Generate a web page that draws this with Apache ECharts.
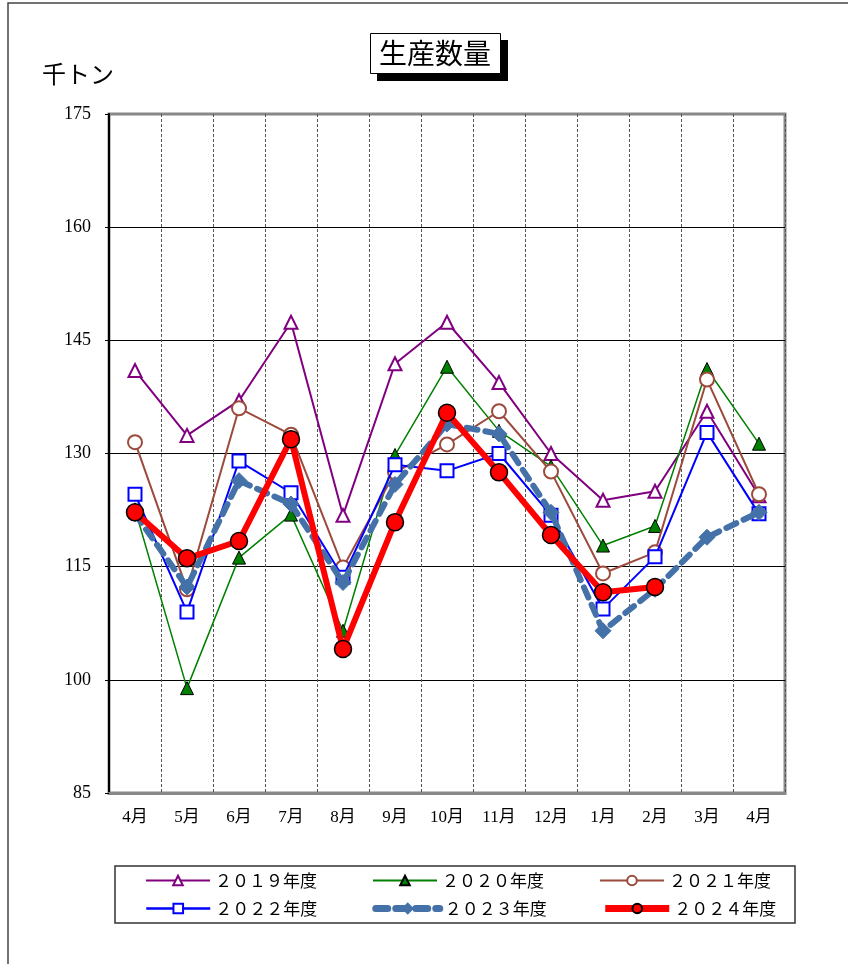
<!DOCTYPE html>
<html>
<head>
<meta charset="utf-8">
<script src="https://cdn.jsdelivr.net/npm/echarts@6/dist/echarts.min.js"></script>
<style>
html,body{margin:0;padding:0;background:#fff;}
#chart{width:848px;height:964px;}
</style>
</head>
<body>
<div id="chart"></div>
<script>
const categories = ['4月','5月','6月','7月','8月','9月','10月','11月','12月','1月','2月','3月','4月'];
const yTicks = [85, 100, 115, 130, 145, 160, 175];
const seriesNames = ['２０１９年度','２０２０年度','２０２１年度','２０２２年度','２０２３年度','２０２４年度'];
const fy2019 = [141.0, 132.4, 137.0, 147.4, 121.8, 141.9, 147.4, 139.4, 130.0, 123.8, 125.0, 135.6, 124.4];
const fy2020 = [122.6, 98.9, 116.2, 121.9, 106.5, 129.8, 141.5, 133.0, 128.3, 117.8, 120.4, 141.2, 131.3];
const fy2021 = [131.5, 112.0, 136.0, 132.5, 114.9, 127.5, 131.2, 135.6, 127.6, 114.1, 116.9, 139.8, 124.6];
const fy2022 = [124.6, 109.0, 129.0, 124.8, 113.6, 128.5, 127.7, 130.0, 121.8, 109.4, 116.3, 132.8, 122.0];
const fy2023 = [122.0, 112.3, 126.4, 123.3, 112.9, 125.9, 133.9, 132.6, 122.2, 106.5, 112.0, 118.9, 122.2];
const fy2024 = [122.2, 116.1, 118.4, 131.9, 104.1, 120.9, 135.4, 127.5, 119.2, 111.6, 112.3, null, null];

const CJK = '"Noto Sans CJK JP", "Noto Sans", sans-serif';
const SERIF = '"Liberation Serif", "DejaVu Serif", "Noto Sans CJK JP", serif';

const chart = echarts.init(document.getElementById('chart'), null, {renderer: 'canvas'});

const legendText = {fontSize: 17, color: '#000', fontFamily: CJK};
const legendCommon = {
  left: 145, itemWidth: 64, itemHeight: 12, itemGap: 55,
  orient: 'horizontal', textStyle: legendText, selectedMode: false, padding: 0
};

const option = {
  animation: false,
  backgroundColor: '#fff',
  title: [
    {
      text: '生産数量', left: 435, textAlign: 'center', top: 37, padding: 0,
      textStyle: {fontSize: 28, fontWeight: 'normal', color: '#000', fontFamily: CJK, lineHeight: 32}
    },
    {
      text: '千トン', left: 42, top: 62, padding: 0,
      textStyle: {fontSize: 24, fontWeight: 'normal', color: '#000', fontFamily: CJK}
    }
  ],
  legend: [
    Object.assign({}, legendCommon, {top: 872, data: [
      {name: seriesNames[0], lineStyle: {width: 2}},
      {name: seriesNames[1], lineStyle: {width: 2}},
      {name: seriesNames[2], lineStyle: {width: 2}}
    ]}),
    Object.assign({}, legendCommon, {top: 900, data: [
      {name: seriesNames[3], lineStyle: {width: 2.5}},
      {name: seriesNames[4], lineStyle: {width: 7, type: [12, 8]}},
      {name: seriesNames[5], lineStyle: {width: 7}}
    ]})
  ],
  grid: {
    left: 109, right: 63, top: 114, bottom: 171,
    show: true, borderColor: '#888', borderWidth: 3, backgroundColor: 'transparent'
  },
  xAxis: {
    type: 'category', data: categories, boundaryGap: true,
    axisLine: {show: true, lineStyle: {color: '#888', width: 3}},
    axisTick: {show: false},
    splitLine: {show: true, lineStyle: {color: '#555', width: 1, type: [3, 2]}},
    axisLabel: {margin: 16, fontSize: 17, color: '#000', fontFamily: SERIF, interval: 0}
  },
  yAxis: {
    type: 'value', min: yTicks[0], max: yTicks[yTicks.length - 1], interval: yTicks[1] - yTicks[0],
    axisLine: {show: true, lineStyle: {color: '#000', width: 2}},
    axisTick: {show: true, length: 4, lineStyle: {color: '#000', width: 1}},
    splitLine: {show: true, lineStyle: {color: ['#888', '#000', '#000', '#000', '#000', '#000', '#888'], width: 1}},
    axisLabel: {margin: 18, fontSize: 18, color: '#000', fontFamily: SERIF}
  },
  graphic: [
    {type: 'rect', shape: {x: 8, y: 3, width: 900, height: 1000}, style: {fill: 'none', stroke: '#444', lineWidth: 1.5}, silent: true, z: -10},
    {type: 'rect', shape: {x: 115, y: 866, width: 680, height: 57}, style: {fill: 'none', stroke: '#333', lineWidth: 1.5}, silent: true, z: -10},
    {type: 'rect', shape: {x: 377, y: 40, width: 131, height: 41}, style: {fill: '#000'}, silent: true, z: -5},
    {type: 'rect', shape: {x: 370.5, y: 33.5, width: 130, height: 40}, style: {fill: '#fff', stroke: '#000', lineWidth: 1}, silent: true, z: -4}
  ],
  series: [
    {
      name: seriesNames[0], type: 'line', data: fy2019, symbol: 'triangle', symbolSize: 13, showAllSymbol: true,
      lineStyle: {color: '#800080', width: 2},
      itemStyle: {color: '#fff', borderColor: '#800080', borderWidth: 2},
      z: 2
    },
    {
      name: seriesNames[1], type: 'line', data: fy2020, symbol: 'triangle', symbolSize: 13, showAllSymbol: true,
      lineStyle: {color: '#008000', width: 1.5},
      itemStyle: {color: '#008000', borderColor: '#000', borderWidth: 1},
      z: 3
    },
    {
      name: seriesNames[2], type: 'line', data: fy2021, symbol: 'circle', symbolSize: 14, showAllSymbol: true,
      lineStyle: {color: '#9c4a3c', width: 2},
      itemStyle: {color: '#fff', borderColor: '#9c4a3c', borderWidth: 2},
      z: 4
    },
    {
      name: seriesNames[3], type: 'line', data: fy2022, symbol: 'rect', symbolSize: 13, showAllSymbol: true,
      lineStyle: {color: '#0000ff', width: 2},
      itemStyle: {color: '#fff', borderColor: '#0000ff', borderWidth: 2},
      z: 5
    },
    {
      name: seriesNames[4], type: 'line', data: fy2023, symbol: 'diamond', symbolSize: 16, showAllSymbol: true,
      lineStyle: {color: '#4472a8', width: 6, type: [11, 8], cap: 'round'},
      itemStyle: {color: '#4472a8', borderColor: '#4472a8', borderWidth: 1},
      z: 6
    },
    {
      name: seriesNames[5], type: 'line', data: fy2024, symbol: 'circle', symbolSize: 17, showAllSymbol: true,
      connectNulls: false,
      lineStyle: {color: '#ff0000', width: 6},
      itemStyle: {color: '#ff0000', borderColor: '#000', borderWidth: 1.5},
      z: 7
    }
  ]
};
chart.setOption(option);
</script>
</body>
</html>
